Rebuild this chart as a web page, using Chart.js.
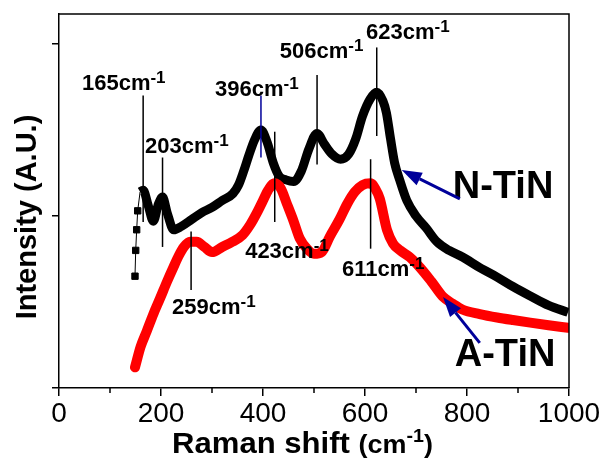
<!DOCTYPE html>
<html><head><meta charset="utf-8">
<script src="https://cdn.jsdelivr.net/npm/chart.js@4.4.1/dist/chart.umd.min.js"></script>
<style>html,body{margin:0;padding:0;background:#fff}</style>
</head><body>
<canvas id="c" width="606" height="461"></canvas>
<script>
// ---------- data ----------
const seriesNames = ['N-TiN', 'A-TiN'];
const nTiN_x = [159,165,175,185,195,203,212,225,240,260,280,300,320,341,352,362,372,383,396,408,420,432,445,460,475,490,506,520,535,552,568,582,595,610,623,635,642,650,658,668,682,700,720,741,765,792,825,859,890,924,960,998];
const nTiN_y = [1.14,1.15,1.06,0.97,1.07,1.11,1.02,0.92,0.94,0.98,1.02,1.05,1.09,1.13,1.18,1.26,1.35,1.44,1.50,1.43,1.31,1.23,1.21,1.20,1.26,1.39,1.48,1.42,1.36,1.33,1.36,1.45,1.58,1.68,1.72,1.67,1.60,1.45,1.31,1.21,1.09,1.00,0.93,0.85,0.80,0.76,0.70,0.645,0.59,0.535,0.48,0.44];
const nTiNStart_x = [149,150.4,152.3,154.3,159];
const nTiNStart_y = [0.65,0.80,0.92,1.03,1.14];
const aTiN_x = [149,160,172,185,198,212,224,235,245,257,270,285,300,320,340,360,375,390,400,410,423,435,447,460,472,486,500,515,531,550,565,580,595,611,620,629,643,655,669,688,708,730,753,772,792,825,859,890,924,960,998];
const aTiN_y = [0.12,0.24,0.33,0.43,0.52,0.62,0.70,0.77,0.82,0.85,0.85,0.82,0.79,0.82,0.85,0.89,0.95,1.03,1.09,1.15,1.19,1.16,1.07,0.97,0.87,0.81,0.78,0.79,0.88,0.98,1.07,1.14,1.18,1.19,1.16,1.10,0.92,0.84,0.80,0.76,0.70,0.62,0.53,0.49,0.455,0.43,0.41,0.395,0.38,0.365,0.35];
const xTickLabels = [0,200,400,600,800,1000];
const peakValues = [165,203,396,506,623,423,611,259];
const peakLabels = ['165cm','203cm','396cm','506cm','623cm','423cm','611cm','259cm'];

// ---------- annotation layout (data units) ----------
const peakLineFrom = [1.70,1.34,1.70,1.82,1.98,1.49,1.33,0.91];
const peakLineTo   = [0.965,0.82,1.34,1.30,1.465,0.965,0.81,0.57];
const peakLabelX   = [45,168.6,306,433,602,365,555,221.6];
const peakLabelY   = [1.733,1.366,1.698,1.919,2.029,0.756,0.651,0.430];
const peakLineColor= ['#000','#000','#00009a','#000','#000','#000','#000','#000'];
const nameLabelX = [772, 776];
const nameLabelY = [1.105, 0.128];
const arrowFrom = [[786,1.10],[825,0.262]];
const arrowTo   = [[672,1.267],[753,0.529]];

const FONT = '"Liberation Sans", Arial, Helvetica, sans-serif';
const toXY = (xs, ys) => xs.map((x, i) => ({x, y: ys[i]}));

const overlay = {
  id: 'overlay',
  afterDraw(chart) {
    const ctx = chart.ctx, a = chart.chartArea;
    const xs = chart.scales.x, ys = chart.scales.y;
    ctx.save();
    // frame top & right
    ctx.strokeStyle = '#000'; ctx.lineWidth = 1.5;
    ctx.beginPath();
    ctx.moveTo(a.left, a.top); ctx.lineTo(a.right, a.top); ctx.lineTo(a.right, a.bottom);
    ctx.stroke();
    // minor x ticks
    for (let v = 100; v < 1000; v += 200) {
      const px = xs.getPixelForValue(v);
      ctx.beginPath(); ctx.moveTo(px, a.bottom); ctx.lineTo(px, a.bottom + 5); ctx.stroke();
    }
    // peak lines and labels
    ctx.fillStyle = '#000';
    ctx.textBaseline = 'alphabetic'; ctx.textAlign = 'left';
    peakValues.forEach((p, i) => {
      const px = xs.getPixelForValue(p);
      ctx.strokeStyle = peakLineColor[i]; ctx.lineWidth = 1.5;
      ctx.beginPath();
      ctx.moveTo(px, ys.getPixelForValue(peakLineFrom[i]));
      ctx.lineTo(px, ys.getPixelForValue(peakLineTo[i]));
      ctx.stroke();
      const lx = xs.getPixelForValue(peakLabelX[i]);
      const ly = ys.getPixelForValue(peakLabelY[i]);
      ctx.font = 'bold 22px ' + FONT;
      ctx.fillText(peakLabels[i], lx, ly);
      const w = ctx.measureText(peakLabels[i]).width;
      ctx.font = 'bold 17px ' + FONT;
      ctx.fillText('-1', lx + w, ly - 7);
    });
    // series name labels and arrows
    ctx.font = 'bold 38px ' + FONT;
    seriesNames.forEach((n, i) => {
      ctx.fillStyle = '#000';
      ctx.fillText(n, xs.getPixelForValue(nameLabelX[i]), ys.getPixelForValue(nameLabelY[i]));
      const x1 = xs.getPixelForValue(arrowFrom[i][0]), y1 = ys.getPixelForValue(arrowFrom[i][1]);
      const x2 = xs.getPixelForValue(arrowTo[i][0]), y2 = ys.getPixelForValue(arrowTo[i][1]);
      const ang = Math.atan2(y2 - y1, x2 - x1);
      const hl = 20, hw = 7;
      const bx = x2 - hl * Math.cos(ang), by = y2 - hl * Math.sin(ang);
      ctx.strokeStyle = '#00009a'; ctx.fillStyle = '#00009a'; ctx.lineWidth = 3;
      ctx.beginPath(); ctx.moveTo(x1, y1); ctx.lineTo(bx, by); ctx.stroke();
      ctx.beginPath();
      ctx.moveTo(x2, y2);
      ctx.lineTo(bx + hw * Math.sin(ang), by - hw * Math.cos(ang));
      ctx.lineTo(bx - hw * Math.sin(ang), by + hw * Math.cos(ang));
      ctx.closePath(); ctx.fill();
    });
    // y title
    ctx.fillStyle = '#000';
    ctx.save();
    ctx.translate(36, (a.top + a.bottom) / 2 + 16);
    ctx.rotate(-Math.PI / 2);
    ctx.textAlign = 'center';
    ctx.font = 'bold 29px ' + FONT;
    ctx.fillText('Intensity (A.U.)', 0, 0);
    ctx.restore();
    // x title
    const parts = [['Raman shift ', 30, 0], ['(cm', 26, 0], ['-1', 19, 11], [')', 26, 0]];
    let tw = 0;
    parts.forEach(p => { ctx.font = 'bold ' + p[1] + 'px ' + FONT; tw += ctx.measureText(p[0]).width; });
    const targetW = 261, sx = targetW / tw;
    ctx.save();
    ctx.translate(172, 453);
    ctx.scale(sx, 1);
    let cx = 0;
    parts.forEach(p => {
      ctx.font = 'bold ' + p[1] + 'px ' + FONT;
      ctx.fillText(p[0], cx, -p[2]);
      cx += ctx.measureText(p[0]).width;
    });
    ctx.restore();
    ctx.restore();
  }
};

new Chart(document.getElementById('c'), {
  type: 'line',
  data: {
    datasets: [
      { label: seriesNames[1], data: toXY(aTiN_x, aTiN_y), borderColor: '#ff0000', borderWidth: 10,
        pointRadius: 0, cubicInterpolationMode: 'monotone', borderCapStyle: 'round', borderJoinStyle: 'round', fill: false },
      { label: seriesNames[0], data: toXY(nTiN_x, nTiN_y), borderColor: '#000', borderWidth: 9,
        pointRadius: 0, cubicInterpolationMode: 'monotone', borderCapStyle: 'butt', borderJoinStyle: 'round', fill: false },
      { label: seriesNames[0] + ' start', data: toXY(nTiNStart_x, nTiNStart_y), borderColor: '#000', backgroundColor: '#000',
        borderWidth: 1, pointStyle: 'rect', pointRadius: [4.5,4.5,4.5,4.5,0], pointBorderWidth: 1, tension: 0, fill: false }
    ]
  },
  options: {
    responsive: false, animation: false, events: [],
    layout: { padding: { top: 14, right: 37, left: 0, bottom: 0 } },
    plugins: { legend: { display: false }, tooltip: { enabled: false } },
    scales: {
      x: {
        type: 'linear', min: 0, max: 1000,
        afterFit: s => { s.height = 73; },
        ticks: { stepSize: 100, autoSkip: false, maxRotation: 0, includeBounds: false,
          callback: v => (xTickLabels.includes(v) ? String(v) : ''),
          color: '#000', font: { family: FONT, size: 28 }, padding: 1 },
        grid: { drawOnChartArea: false, drawTicks: true, tickLength: 8, lineWidth: 1.5,
          color: c => (c.tick && xTickLabels.includes(c.tick.value) ? '#000' : 'rgba(0,0,0,0)') },
        border: { display: true, color: '#000', width: 1.5 }
      },
      y: {
        type: 'linear', min: 0, max: 2.1744,
        afterFit: s => { s.width = 59; },
        ticks: { stepSize: 1, includeBounds: false, callback: () => '', padding: 0 },
        grid: { drawOnChartArea: false, drawTicks: true, tickLength: 7, lineWidth: 1.5, color: '#000' },
        border: { display: true, color: '#000', width: 1.5 }
      }
    }
  },
  plugins: [overlay]
});
</script>
</body></html>
